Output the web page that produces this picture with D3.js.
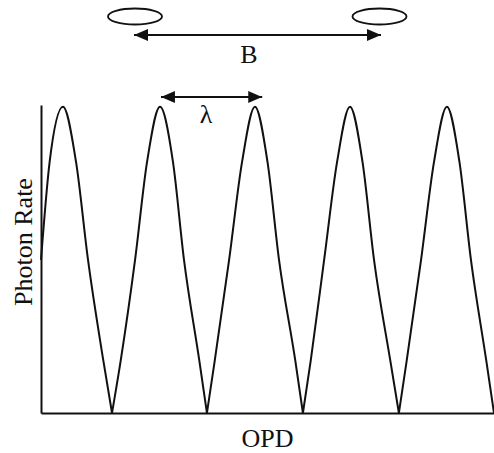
<!DOCTYPE html>
<html>
<head>
<meta charset="utf-8">
<script src="https://cdn.jsdelivr.net/npm/d3@7"></script>
<style>
  body { margin: 0; background: #fff; }
  text { font-family: "Liberation Serif", "DejaVu Serif", serif; fill: #111; }
</style>
</head>
<body>
<script>
// fringe pattern, OPD in units of lambda, photon rate normalised 0..1
var opd = [0, 0.09, 0.229, 0.365, 0.49, 0.65, 0.74,
           0.83, 0.98, 1.105, 1.24, 1.375, 1.49, 1.65, 1.729,
           1.81, 1.96, 2.095, 2.229, 2.36, 2.48, 2.65, 2.729,
           2.81, 2.95, 3.085, 3.219, 3.35, 3.47, 3.64, 3.729,
           3.81, 3.96, 4.095, 4.229, 4.36, 4.48, 4.64, 4.72];
var rate = [0.5, 0.82, 1, 0.82, 0.5, 0.17, 0,
            0.17, 0.5, 0.82, 1, 0.82, 0.5, 0.17, 0,
            0.17, 0.5, 0.82, 1, 0.82, 0.5, 0.17, 0,
            0.17, 0.5, 0.82, 1, 0.82, 0.5, 0.17, 0,
            0.17, 0.5, 0.82, 1, 0.82, 0.5, 0.17, 0];
var xLabel = "OPD",
    yLabel = "Photon Rate",
    baselineLabel = "B",
    lambdaLabel = "\u03bb";

// set up canvas
var W = 494, H = 453;
var margin = {top: 105, right: 0, bottom: 40, left: 41},
    width = W - margin.left - margin.right,
    height = H - margin.top - margin.bottom;

var svg = d3.select("body").append("svg")
    .attr("width", W)
    .attr("height", H);

var x = d3.scaleLinear().domain([0, 4.72]).range([margin.left, W - margin.right]),
    y = d3.scaleLinear().domain([0, 1.006]).range([margin.top + height, margin.top]);

// axes: plain lines, no ticks
svg.append("g")
    .attr("transform", "translate(0," + (margin.top + height) + ")")
    .call(d3.axisBottom(x).ticks(0).tickSizeOuter(0))
    .select(".domain").attr("stroke", "#111").attr("stroke-width", 2);

svg.append("g")
    .attr("transform", "translate(" + margin.left + ",0)")
    .call(d3.axisLeft(y).ticks(0).tickSizeOuter(0))
    .select(".domain").attr("stroke", "#111").attr("stroke-width", 2);

// split the fringe curve at the minima so troughs stay pointed
var pts = opd.map(function(d, i) { return [d, rate[i]]; });
var arches = [], cur = [];
pts.forEach(function(p, i) {
    cur.push(p);
    if (p[1] === 0 && i > 0 && i < pts.length - 1) {
        arches.push(cur);
        cur = [p];
    }
});
arches.push(cur);

var line = d3.line()
    .x(function(d) { return x(d[0]); })
    .y(function(d) { return y(d[1]); })
    .curve(d3.curveMonotoneX);

svg.selectAll(".arch")
    .data(arches)
    .enter().append("path")
    .attr("class", "arch")
    .attr("fill", "none")
    .attr("stroke", "#111")
    .attr("stroke-width", 2)
    .attr("stroke-linejoin", "round")
    .attr("d", line);

// labels
svg.append("text")
    .attr("x", (margin.left + W) / 2)
    .attr("y", 447)
    .attr("text-anchor", "middle")
    .attr("font-size", 26)
    .text(xLabel);

svg.append("text")
    .attr("transform", "translate(32,242) rotate(-90)")
    .attr("text-anchor", "middle")
    .attr("font-size", 26)
    .text(yLabel);

// arrowheads
var defs = svg.append("defs");
defs.append("marker")
    .attr("id", "head")
    .attr("viewBox", "0 0 14 12")
    .attr("refX", 14).attr("refY", 6)
    .attr("markerWidth", 14).attr("markerHeight", 12)
    .attr("markerUnits", "userSpaceOnUse")
    .attr("orient", "auto-start-reverse")
    .append("path")
    .attr("d", "M0,0L14,6L0,12Z")
    .attr("fill", "#111");

function arrow(x1, x2, yy) {
    svg.append("line")
        .attr("x1", x1).attr("x2", x2)
        .attr("y1", yy).attr("y2", yy)
        .attr("stroke", "#111")
        .attr("stroke-width", 2)
        .attr("marker-start", "url(#head)")
        .attr("marker-end", "url(#head)");
}

// telescope apertures and baseline
[135, 379.5].forEach(function(cx) {
    svg.append("ellipse")
        .attr("cx", cx).attr("cy", 16.5)
        .attr("rx", 27).attr("ry", 8)
        .attr("fill", "none")
        .attr("stroke", "#111")
        .attr("stroke-width", 1.8);
});
arrow(134, 381, 35);
svg.append("text")
    .attr("x", 249).attr("y", 63)
    .attr("text-anchor", "middle")
    .attr("font-size", 26)
    .text(baselineLabel);

// fringe spacing, peak to peak
arrow(x(1.25), x(2.305), 97);
svg.append("text")
    .attr("x", 206).attr("y", 123)
    .attr("text-anchor", "middle")
    .attr("font-size", 26)
    .text(lambdaLabel);
</script>
</body>
</html>
